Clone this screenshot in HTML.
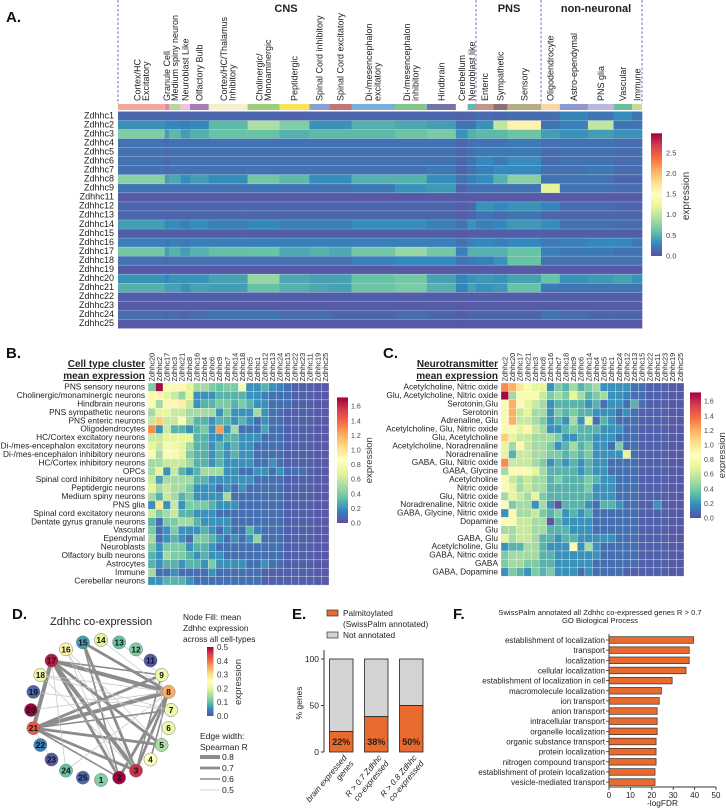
<!DOCTYPE html>
<html><head><meta charset="utf-8"><style>
html,body{margin:0;padding:0;background:#fff;}
svg{display:block;font-family:"Liberation Sans",Arial,sans-serif;}
</style></head><body>
<svg id="fig" width="726" height="811" viewBox="0 0 726 811" xmlns="http://www.w3.org/2000/svg">
<defs>
<linearGradient id="specV" x1="0" y1="1" x2="0" y2="0">
<stop offset="0" stop-color="#5e4fa2"/><stop offset="0.1" stop-color="#3288bd"/><stop offset="0.2" stop-color="#66c2a5"/><stop offset="0.3" stop-color="#abdda4"/><stop offset="0.4" stop-color="#e6f598"/><stop offset="0.5" stop-color="#ffffbf"/><stop offset="0.6" stop-color="#fee08b"/><stop offset="0.7" stop-color="#fdae61"/><stop offset="0.8" stop-color="#f46d43"/><stop offset="0.9" stop-color="#d53e4f"/><stop offset="1" stop-color="#9e0142"/>
</linearGradient>
</defs>
<g id="pA"></g>
<g id="pB"></g>
<g id="pC"></g>
<g id="pD"></g>
<g id="pE"></g>
<g id="pF"></g>
</svg>
<script>
// ---------- Panel A data ----------
const aClusters = ["Cortex/HC|Excitatory","Granule Cell","Medium spiny neuron","Neuroblast Like","Olfactory Bulb","Cortex/HC/Thalamus|Inhibitory","Cholinergic/|Monoaminergic","Peptidergic","Spinal Cord inhibitory","Spinal Cord excitatory","Di-/mesencephalon|excitatory","Di-/mesencephalon|inhibitory","Hindbrain","Cerebellum","Neuroblast like","Enteric","Sympathetic","Sensory","Oligodendrocyte","Astro-ependymal","PNS glia","Vascular","Immune"];
const aCellCounts = [468,42,117,93,188,388,319,299,201,220,435,319,290,117,84,173,141,336,188,281,257,187,97];
const aClusterColors = ["#f4a69a","#e87fb5","#b5d89a","#f0c0dc","#a97bb5","#f3f2cc","#9ccf7d","#f9e456","#8b9fd0","#c6727a","#7aaedb","#80c889","#7274a8","#ffffff","#66b6b8","#c5928e","#8a7078","#b5ad84","#fdd5a8","#8c98cf","#b8b8e0","#69c19b","#c2de8f"];
const aGenes = ["Zdhhc1","Zdhhc2","Zdhhc3","Zdhhc4","Zdhhc5","Zdhhc6","Zdhhc7","Zdhhc8","Zdhhc9","Zdhhc11","Zdhhc12","Zdhhc13","Zdhhc14","Zdhhc15","Zdhhc16","Zdhhc17","Zdhhc18","Zdhhc19","Zdhhc20","Zdhhc21","Zdhhc22","Zdhhc23","Zdhhc24","Zdhhc25"];
const aExpr = [
[.12,.12,.12,.12,.12,.12,.12,.1,.12,.12,.12,.12,.12,.1,.12,.15,.12,.15,.15,.28,.2,.32,.2],
[.35,.3,.3,.25,.3,.55,.9,.7,.35,.35,.5,.45,.4,.2,.2,.35,1.0,1.6,.2,.25,1.0,.2,.2],
[.7,.4,.55,.4,.5,.6,.6,.5,.55,.55,.55,.62,.68,.35,.5,.55,.55,.62,.4,.35,.4,.35,.35],
[.18,.15,.18,.18,.18,.18,.18,.18,.18,.18,.18,.18,.18,.12,.18,.18,.18,.22,.18,.18,.18,.15,.15],
[.18,.15,.18,.18,.18,.18,.18,.18,.18,.18,.18,.18,.18,.12,.18,.22,.22,.22,.15,.18,.18,.15,.15],
[.18,.12,.18,.18,.18,.18,.18,.18,.18,.18,.18,.18,.18,.12,.18,.3,.22,.32,.15,.18,.18,.15,.15],
[.18,.15,.18,.18,.18,.18,.18,.18,.18,.18,.18,.18,.22,.12,.18,.26,.32,.3,.18,.18,.22,.15,.15],
[.75,.4,.45,.32,.4,.32,.65,.55,.32,.32,.5,.5,.32,.18,.25,.32,.5,.75,.18,.18,.18,.12,.12],
[.2,.18,.18,.18,.18,.18,.2,.18,.18,.18,.22,.35,.38,.12,.18,.18,.18,.18,1.2,.18,.18,.15,.15],
[.05,.05,.05,.05,.05,.05,.05,.05,.05,.05,.05,.05,.05,.05,.05,.05,.05,.05,.05,.05,.05,.05,.05],
[.12,.12,.12,.12,.12,.12,.12,.12,.12,.12,.12,.12,.12,.08,.12,.35,.3,.35,.28,.15,.15,.12,.12],
[.12,.1,.12,.12,.12,.12,.12,.12,.12,.12,.12,.12,.12,.08,.12,.2,.15,.2,.12,.12,.12,.12,.12],
[.4,.3,.32,.25,.32,.25,.3,.25,.25,.25,.32,.32,.25,.18,.35,.25,.3,.38,.32,.18,.18,.15,.15],
[.08,.06,.08,.08,.08,.08,.08,.08,.08,.08,.08,.08,.08,.06,.08,.08,.08,.08,.08,.08,.08,.08,.08],
[.25,.22,.25,.22,.25,.25,.25,.25,.25,.25,.25,.25,.25,.18,.25,.3,.25,.3,.22,.25,.3,.3,.22],
[.65,.4,.5,.4,.5,.58,.6,.45,.5,.45,.65,.8,.65,.25,.5,.5,.5,.6,.25,.22,.22,.18,.18],
[.18,.15,.18,.18,.18,.18,.18,.18,.18,.18,.25,.3,.3,.18,.22,.25,.35,.6,.18,.18,.18,.18,.18],
[.05,.05,.05,.05,.05,.05,.05,.05,.05,.05,.05,.05,.05,.05,.05,.05,.05,.05,.05,.05,.05,.05,.05],
[.35,.28,.35,.35,.35,.42,.8,.45,.42,.42,.6,.65,.42,.28,.35,.38,.35,.42,.6,.35,.38,.42,.35],
[.5,.42,.42,.35,.42,.4,.6,.5,.45,.42,.62,.68,.5,.28,.42,.35,.38,.6,.22,.2,.2,.2,.2],
[.08,.06,.08,.08,.08,.08,.08,.08,.08,.08,.08,.08,.08,.06,.08,.08,.08,.08,.08,.08,.08,.08,.08],
[.06,.05,.06,.06,.06,.06,.06,.06,.06,.06,.06,.06,.06,.05,.06,.06,.06,.06,.06,.06,.06,.06,.06],
[.15,.12,.15,.12,.15,.2,.2,.15,.15,.12,.12,.15,.12,.08,.12,.12,.12,.12,.2,.15,.12,.12,.12],
[.06,.05,.06,.06,.06,.06,.06,.06,.06,.06,.06,.06,.06,.05,.06,.06,.06,.06,.06,.06,.06,.06,.06]];
const aTicks = [0.5,1.0,1.5,2.0,2.5];

// ---------- Panel B data ----------
const bCols = ["Zdhhc20","Zdhhc2","Zdhhc17","Zdhhc3","Zdhhc21","Zdhhc8","Zdhhc16","Zdhhc4","Zdhhc6","Zdhhc9","Zdhhc7","Zdhhc14","Zdhhc18","Zdhhc5","Zdhhc1","Zdhhc12","Zdhhc13","Zdhhc24","Zdhhc15","Zdhhc22","Zdhhc23","Zdhhc11","Zdhhc19","Zdhhc25"];
const bRows = ["PNS sensory neurons","Cholinergic/monaminergic neurons","Hindbrain neurons","PNS sympathetic neurons","PNS enteric neurons","Oligodendrocytes","HC/Cortex excitatory neurons","Di-/mes-encephalon excitatory neurons","Di-/mes-encephalon inhibitory neurons","HC/Cortex inhibitory neurons","OPCs","Spinal cord inhibitory neurons","Peptidergic neurons","Medium spiny neurons","PNS glia","Spinal cord excitatory neurons","Dentate gyrus granule neurons","Vascular","Ependymal","Neuroblasts","Olfactory bulb neurons","Astrocytes","Immune","Cerebellar neurons"];
const bVals = [
[.4,1.7,.8,.8,.9,.7,.5,.5,.4,.35,.4,.4,.8,.2,.2,.3,.2,.15,.1,.05,.05,.05,.03,.03],
[.9,.9,.7,.6,.45,.7,.2,.2,.2,.3,.3,.3,.3,.2,.2,.15,.1,.1,.1,.05,.05,.05,.03,.03],
[.8,.5,.9,.9,.95,.6,.2,.3,.3,.4,.4,.3,.4,.3,.2,.2,.1,.1,.1,.05,.05,.05,.03,.03],
[.5,.7,.7,.6,.6,.5,.5,.5,.5,.2,.4,.2,.2,.2,.5,.2,.1,.1,.05,.05,.05,.05,.03,.03],
[.6,1.1,.6,.6,.8,.5,.3,.3,.2,.3,.3,.2,.3,.2,.1,.2,.1,.1,.05,.05,.05,.05,.03,.03],
[1.3,.2,.6,.3,.3,.2,.3,.4,.2,1.25,.2,.5,.1,.1,.1,.25,.1,.1,.05,.05,.05,.05,.03,.03],
[.6,.6,.7,.7,.7,.7,.3,.3,.2,.2,.3,.3,.2,.2,.2,.1,.1,.1,.05,.05,.05,.05,.03,.03],
[.7,.6,.8,.75,.7,.5,.3,.3,.2,.3,.2,.3,.2,.2,.1,.1,.1,.1,.05,.05,.05,.05,.03,.03],
[.8,.5,.8,.8,.7,.4,.3,.3,.2,.3,.2,.3,.2,.2,.1,.1,.1,.1,.05,.05,.05,.05,.03,.03],
[.5,.5,.6,.6,.6,.5,.3,.3,.2,.3,.2,.2,.2,.2,.1,.1,.2,.1,.05,.05,.05,.05,.03,.03],
[.5,.7,.2,.6,.3,.2,.3,.5,.5,.5,.2,.2,.1,.1,.2,.2,.1,.2,.1,.1,.1,.05,.03,.03],
[.6,.25,.5,.5,.5,.5,.3,.3,.2,.2,.2,.2,.2,.2,.1,.1,.1,.1,.05,.05,.05,.05,.03,.03],
[.7,.5,.6,.5,.5,.4,.2,.2,.2,.1,.2,.1,.2,.1,.1,.1,.1,.1,.05,.05,.05,.05,.03,.03],
[.5,.3,.6,.5,.3,.4,.2,.2,.2,.2,.5,.1,.1,.1,.1,.1,.1,.1,.05,.05,.05,.05,.03,.03],
[.2,1.0,.2,.6,.2,.4,.4,.4,.3,.2,.2,.2,.1,.1,.1,.1,.1,.1,.05,.05,.05,.05,.03,.03],
[.6,.4,.5,.6,.3,.3,.2,.2,.2,.1,.1,.1,.1,.1,.1,.1,.1,.1,.05,.05,.05,.05,.03,.03],
[.3,.1,.4,.4,.5,.5,.3,.2,.2,.2,.2,.1,.1,.1,.1,.1,.1,.1,.05,.05,.05,.05,.03,.03],
[.4,.1,.2,.4,.2,.2,.2,.3,.2,.1,.2,.1,.1,.3,.15,.1,.1,.1,.05,.05,.05,.05,.03,.03],
[.5,.1,.2,.3,.2,.1,.4,.4,.3,.2,.1,.2,.1,.2,.45,.1,.1,.1,.05,.05,.05,.05,.03,.03],
[.4,.2,.4,.4,.4,.2,.3,.3,.2,.1,.1,.1,.1,.1,.1,.1,.1,.1,.05,.05,.05,.05,.03,.03],
[.3,.2,.5,.4,.4,.3,.2,.3,.2,.2,.1,.1,.1,.1,.1,.1,.1,.1,.05,.05,.05,.05,.03,.03],
[.3,.2,.3,.3,.2,.3,.3,.2,.4,.2,.2,.2,.2,.1,.1,.2,.1,.1,.05,.05,.05,.05,.03,.03],
[.5,.1,.1,.2,.1,.1,.1,.1,.2,.1,.1,.1,.1,.1,.1,.05,.05,.05,.05,.05,.05,.05,.03,.03],
[.2,.2,.3,.3,.3,.2,.1,.1,.1,.1,.1,.1,.1,.1,.1,.05,.05,.05,.05,.05,.05,.05,.03,.03]];
const bcTicks = [0.0,0.2,0.4,0.6,0.8,1.0,1.2,1.4,1.6];

// ---------- Panel C data ----------
const cCols = ["Zdhhc2","Zdhhc20","Zdhhc17","Zdhhc21","Zdhhc3","Zdhhc8","Zdhhc16","Zdhhc7","Zdhhc18","Zdhhc9","Zdhhc6","Zdhhc14","Zdhhc4","Zdhhc5","Zdhhc1","Zdhhc24","Zdhhc12","Zdhhc13","Zdhhc15","Zdhhc22","Zdhhc11","Zdhhc23","Zdhhc19","Zdhhc25"];
const cRows = ["Acetylcholine, Nitric oxide","Glu, Acetylcholine, Nitric oxide","Serotonin,Glu","Serotonin","Adrenaline, Glu","Acetylcholine, Glu, Nitric oxide","Glu, Acetylcholine","Acetylcholine, Noradrenaline","Noradrenaline","GABA, Glu, Nitric oxide","GABA, Glycine","Acetylcholine","Nitric oxide","Glu, Nitric oxide","Noradrenaline, Nitric oxide","GABA, Glycine, Nitric oxide","Dopamine","Glu","GABA, Glu","Acetylcholine, Glu","GABA, Nitric oxide","GABA","GABA, Dopamine"];
const cVals = [
[1.3,1.2,1.0,.8,.7,.7,.2,.4,.3,.5,.3,.4,.5,.2,.2,.2,.2,.1,.1,.05,.05,.05,.03,.03],
[1.7,.5,.8,.8,.8,.6,.4,.5,.4,.7,.5,.3,.4,.5,.2,.2,.15,.1,.1,.05,.05,.05,.03,.03],
[.8,1.2,.9,.7,.6,.5,.2,.3,.3,.3,.3,.2,.3,.1,.2,.2,.1,.3,.1,.05,.05,.05,.03,.03],
[.8,1.2,.6,.7,.5,.5,.2,.4,.3,.4,.3,.3,.2,.2,.2,.1,.2,.1,.05,.05,.05,.05,.03,.03],
[.9,1.2,.6,.6,.5,.4,.2,.3,.2,.5,.2,.7,.1,.3,.2,.1,.1,.1,.05,.05,.05,.05,.03,.03],
[.8,.8,.7,.9,.6,.5,.2,.2,.3,.4,.3,.3,.3,.2,.2,.2,.1,.1,.05,.05,.05,.05,.03,.03],
[1.1,.7,.6,.6,.5,.5,.5,.4,.2,.2,.3,.3,.2,.2,.2,.1,.1,.1,.05,.05,.05,.05,.03,.03],
[.7,.5,.9,.6,.5,.5,.4,.2,.3,.5,.3,.4,.2,.2,.1,.4,.1,.1,.05,.05,.05,.05,.03,.03],
[.7,.3,.6,.6,.5,.5,.4,.4,.3,.4,.3,.4,.2,.2,.2,.2,.7,.1,.05,.05,.05,.05,.03,.03],
[1.3,.6,.6,.6,.5,.4,.2,.3,.2,.3,.2,.3,.2,.2,.1,.1,.1,.1,.05,.05,.05,.05,.03,.03],
[.5,.9,.9,.8,.7,.5,.3,.3,.3,.3,.2,.3,.2,.2,.1,.1,.1,.1,.05,.05,.05,.05,.03,.03],
[.9,.6,.5,.6,.5,.5,.3,.4,.3,.3,.3,.4,.3,.2,.2,.1,.1,.1,.05,.05,.05,.05,.03,.03],
[.9,.7,.5,.6,.5,.5,.3,.3,.3,.3,.3,.4,.2,.2,.2,.1,.1,.1,.05,.05,.05,.05,.03,.03],
[.5,.7,.6,.5,.7,.4,.3,.3,.3,.3,.3,.3,.2,.2,.2,.1,.1,.1,.05,.05,.05,.05,.03,.03],
[.9,.4,.5,.5,.2,.5,.2,.02,.3,.3,.3,.2,.1,.3,.3,.2,.1,.1,.05,.05,.2,.05,.03,.03],
[.2,.9,.5,.5,.6,.4,.3,.4,.2,.3,.2,.3,.1,.1,.1,.1,.1,.1,.05,.05,.05,.05,.03,.03],
[.9,.8,.6,.6,.5,.5,.02,.3,.2,.2,.2,.2,.1,.1,.1,.1,.1,.1,.05,.05,.05,.05,.03,.03],
[.5,.5,.6,.6,.5,.5,.3,.3,.3,.2,.2,.2,.1,.1,.1,.1,.1,.1,.05,.05,.05,.05,.03,.03],
[.7,.5,.6,.6,.5,.3,.3,.2,.3,.3,.2,.2,.2,.2,.2,.1,.1,.1,.05,.05,.05,.05,.03,.03],
[.2,.3,.3,.5,.5,.3,.2,.2,.2,.9,.2,.5,.2,.1,.1,.1,.1,.1,.05,.05,.05,.05,.03,.03],
[.4,.5,.5,.5,.5,.3,.3,.2,.2,.2,.2,.2,.2,.1,.1,.1,.1,.1,.05,.05,.05,.05,.03,.03],
[.4,.5,.5,.4,.4,.3,.3,.2,.2,.2,.2,.2,.1,.1,.1,.1,.1,.1,.05,.05,.05,.05,.03,.03],
[.2,.4,.3,.2,.4,.3,.4,.2,.2,.2,.1,.2,.1,.1,.1,.1,.05,.05,.05,.05,.05,.05,.03,.03]];

// ---------- Panel D data ----------
const dNodeOrder = [14,13,12,11,9,8,7,6,5,4,3,2,1,25,24,23,22,21,20,19,18,17,16,15];
const dNodeExpr = {1:.12,2:.5,3:.46,4:.25,5:.15,6:.22,7:.22,8:.35,9:.22,11:.01,12:.12,13:.1,14:.2,15:.07,16:.27,17:.48,18:.22,19:.02,20:.5,21:.42,22:.04,23:.01,24:.1,25:.02};
const dEdgeFrom = [17,17,21,21,17,17,17,15,15,21,21,21,8,8,9,17,15,16,18,18,14,13,16,21,20,24,18,4,5,19,24,23,16];
const dEdgeTo   = [8,3,8,9,21,2,5,3,8,5,3,2,3,2,3,9,2,5,8,7,8,9,3,7,8,17,3,8,9,7,8,21,2];
const dEdgeR    = [.8,.8,.8,.7,.8,.7,.7,.7,.7,.7,.7,.6,.7,.7,.6,.6,.6,.5,.5,.5,.5,.5,.5,.6,.5,.5,.5,.6,.5,.5,.5,.5,.5];
const dTicks = [0.0,0.1,0.2,0.3,0.4,0.5];
const dLegendR = [0.8,0.7,0.6,0.5];

// ---------- Panel E data ----------
const eCats = [["brain expressed","genes"],["R > 0.7 Zdhhc","co-expressed"],["R > 0.8 Zdhhc","co-expressed"]];
const ePalm = [22,38,50];
const eTicks = [0,50,100];

// ---------- Panel F data ----------
const fTerms = ["establishment of localization","transport","localization","cellular localization","establishment of localization in cell","macromolecule localization","ion transport","anion transport","intracellular transport","organelle localization","organic substance transport","protein localization","nitrogen compound transport","establishment of protein localization","vesicle-mediated transport"];
const fVals = [39.5,37.5,37.5,36,29.5,24.5,23.5,22.5,22.5,22.5,22,22,22,21.5,21.5];
const fTicks = [0,10,20,30,40,50];

// ---------- helpers ----------
const NS = "http://www.w3.org/2000/svg";
function mk(tag, attrs, parent){ const e=document.createElementNS(NS,tag); for(const k in attrs) e.setAttribute(k,attrs[k]); parent.appendChild(e); return e; }
const STOPS=["#5e4fa2","#3288bd","#66c2a5","#abdda4","#e6f598","#ffffbf","#fee08b","#fdae61","#f46d43","#d53e4f","#9e0142"];
function hex(c){return [parseInt(c.slice(1,3),16),parseInt(c.slice(3,5),16),parseInt(c.slice(5,7),16)];}
function spec(t){ t=Math.max(0,Math.min(1,t)); const p=t*10; const i=Math.min(9,Math.floor(p)); const f=p-i; const a=hex(STOPS[i]), b=hex(STOPS[i+1]); return "rgb("+a.map((v,k)=>Math.round(v+(b[k]-v)*f)).join(",")+")"; }
function txt(parent, x, y, s, size, opts){ const t=mk("text",Object.assign({x:x,y:y,"font-size":size,fill:"#222"},opts||{}),parent); t.textContent=s; return t; }

// ================= Panel A =================
(function(){
  const g=document.getElementById("pA");
  const x0=118, x1=642, y0=111.5, rh=9.04, vmax=2.97;
  const total=aCellCounts.reduce((s,v)=>s+v,0);
  const sx=(x1-x0)/total;
  let t=txt(g,6,22,"A.",15,{"font-weight":"bold",fill:"#111"});
  
  
  [["CNS",286],["PNS",509],["non-neuronal",596]].forEach(h=>{
    const e=txt(g,h[1],12,h[0],11,{"font-weight":"bold","text-anchor":"middle"});
    
    
  });
  [118,476,541,642].forEach(x=>{
    const l=mk("line",{x1:x,y1:0,x2:x,y2:104,stroke:"#3a4fb0","stroke-width":0.8,"stroke-dasharray":"2.5,2"},g);
    
    
  });
  let acc=0;
  aClusters.forEach((name,ci)=>{
    const xa=x0+acc*sx, w=aCellCounts[ci]*sx; acc+=aCellCounts[ci];
    const r=mk("rect",{x:xa,y:104,width:w,height:6,fill:aClusterColors[ci]},g);
    
    
    const lines=name.split("|"); const cx=xa+w/2;
    const lab=mk("text",{transform:"translate("+cx+",101) rotate(-90)","font-size":9,fill:"#222"},g);
    
    
    lines.forEach((ln,li)=>{ const ts=mk("tspan",{x:0,y:(li-(lines.length-1)/2)*8.5+3.2},lab); ts.textContent=ln; });
    aGenes.forEach((gn,ri)=>{
      const c=mk("rect",{x:xa,y:y0+ri*rh,width:w+0.3,height:rh,fill:spec(aExpr[ri][ci]/vmax)},g);
      
      
    });
  });
  aGenes.forEach((gn,ri)=>{
    const l=txt(g,114,y0+ri*rh+6.8,gn,9,{"text-anchor":"end"});
    
    
    if(ri>0){ const ln=mk("line",{x1:x0,x2:x1,y1:y0+ri*rh,y2:y0+ri*rh,stroke:"#fff","stroke-opacity":0.35,"stroke-width":0.6},g);
      
       }
  });
  const cbx=651, cbBottom=256, cbPer=41.3, cbTop=cbBottom-vmax*cbPer;
  const cb=mk("rect",{x:cbx,y:cbTop,width:11,height:cbBottom-cbTop,fill:"url(#specV)"},g);
  
  
  [0].concat(aTicks).forEach(v=>{
    const y=cbBottom-v*cbPer;
    const e=txt(g,666,y+2.5,v.toFixed(1),7.5,{fill:"#444"});
    
    
  });
  const et=mk("text",{transform:"translate(689,196) rotate(-90)","font-size":10,"text-anchor":"middle",fill:"#333"},g);
  et.textContent="expression";
  
  
})();

// ================= heatmap helper for B / C =================
function smallHeat(g, cols, rows, vals, x0, x1, y0, rh, labelX, name){
  const cw=(x1-x0)/cols.length, vmax=1.72;
  rows.forEach((rn,ri)=>{
    cols.forEach((cn,ci)=>{
      const c=mk("rect",{x:x0+ci*cw,y:y0+ri*rh,width:cw,height:rh,fill:spec(vals[ri][ci]/vmax),stroke:"#ffffff","stroke-opacity":0.55,"stroke-width":0.5},g);
      
      
    });
    const l=txt(g,labelX,y0+ri*rh+6.6,rn,8.3,{"text-anchor":"end"});
    
    
  });
  cols.forEach((cn,ci)=>{
    const t=mk("text",{transform:"translate("+(x0+ci*cw+cw/2+2.6)+","+(y0-1.5)+") rotate(-90)","font-size":7.4,fill:"#222"},g);
    t.textContent=cn;
    
    
  });
}
function smallBar(g, x, bottom, per, tickX, titleX, name){
  const top=bottom-1.72*per;
  const r=mk("rect",{x:x,y:top,width:11,height:bottom-top,fill:"url(#specV)"},g);
  
  
  bcTicks.forEach(v=>{
    const e=txt(g,tickX,bottom-v*per+2.5,v.toFixed(1),7,{fill:"#444"});
    
    
  });
  const et=mk("text",{transform:"translate("+titleX+","+((top+bottom)/2)+") rotate(-90)","font-size":9.5,"text-anchor":"middle",fill:"#333"},g);
  et.textContent="expression";
  
  
}

// ================= Panel B =================
(function(){
  const g=document.getElementById("pB");
  let t=txt(g,6,358,"B.",15,{"font-weight":"bold",fill:"#111"});
  
  
  t=txt(g,145,367,"Cell type cluster",10,{"font-weight":"bold","text-anchor":"end","text-decoration":"underline"});
  
  
  t=txt(g,145,379,"mean expression",10,{"font-weight":"bold","text-anchor":"end","text-decoration":"underline"});
  
  
  smallHeat(g,bCols,bRows,bVals,148,329,383,8.42,145,'heatmap-b');
  smallBar(g,337,523,73,351,372,'colorbar-b');
})();

// ================= Panel C =================
(function(){
  const g=document.getElementById("pC");
  let t=txt(g,383,358,"C.",15,{"font-weight":"bold",fill:"#111"});
  
  
  t=txt(g,498,367,"Neurotransmitter",10,{"font-weight":"bold","text-anchor":"end","text-decoration":"underline"});
  
  
  t=txt(g,498,379,"mean expression",10,{"font-weight":"bold","text-anchor":"end","text-decoration":"underline"});
  
  
  smallHeat(g,cCols,cRows,cVals,501,684,383,8.4,498,'heatmap-c');
  smallBar(g,690,518,73,704,725,'colorbar-c');
})();

// ================= Panel D =================
(function(){
  const g=document.getElementById("pD");
  let t=txt(g,12,619,"D.",15,{"font-weight":"bold",fill:"#111"});
  
  
  t=txt(g,50,625,"Zdhhc co-expression",11,{fill:"#222"});
  
  
  ["Node Fill: mean","Zdhhc expression","across all cell-types"].forEach((s,i)=>{
    const e=txt(g,183,620+i*11,s,8.3,{fill:"#222"});
    
    
  });
  const cx=101, cy=710, R=70, vmax=0.5;
  const pos={};
  dNodeOrder.forEach((n,i)=>{ const a=(-90+i*15)*Math.PI/180; pos[n]=[cx+R*Math.cos(a), cy+R*Math.sin(a)]; });
  dEdgeFrom.forEach((f,i)=>{
    const r=dEdgeR[i];
    const w=r>=0.8?4:r>=0.7?2.8:r>=0.6?1.6:0.7;
    const col=r>=0.6?"#8c8c8c":"#c4c4c4";
    const l=mk("line",{x1:pos[f][0],y1:pos[f][1],x2:pos[dEdgeTo[i]][0],y2:pos[dEdgeTo[i]][1],stroke:col,"stroke-width":w},g);
    
    
  });
  dNodeOrder.forEach(n=>{
    const c=mk("circle",{cx:pos[n][0],cy:pos[n][1],r:6.6,fill:spec(dNodeExpr[n]/vmax),stroke:"#777","stroke-width":0.5},g);
    
    
    const l=txt(g,pos[n][0],pos[n][1]+3,String(n),8.3,{"text-anchor":"middle","font-weight":"bold",fill:"#111"});
    
    
  });
  const cbB=716, per=138;
  const cb=mk("rect",{x:207,y:cbB-0.5*per,width:6.5,height:0.5*per,fill:"url(#specV)"},g);
  
  
  dTicks.forEach(v=>{
    const e=txt(g,217,cbB-v*per+3,v.toFixed(1),8,{fill:"#333"});
    
    
  });
  const et=mk("text",{transform:"translate(241,682) rotate(-90)","font-size":9.5,"text-anchor":"middle",fill:"#333"},g);
  et.textContent="expression";
  
  
  t=txt(g,200,739,"Edge width:",8.5,{fill:"#222"});
  
  
  t=txt(g,200,750,"Spearman R",8.5,{fill:"#222"});
  
  
  dLegendR.forEach((r,i)=>{
    const y=757+i*11;
    const w=r>=0.8?4:r>=0.7?2.8:r>=0.6?1.6:0.7;
    const l=mk("line",{x1:200,x2:220,y1:y,y2:y,stroke:r>=0.6?"#8c8c8c":"#c4c4c4","stroke-width":w},g);
    
    
    const e=txt(g,222,y+3,r.toFixed(1),8.5,{fill:"#222"});
    
    
  });
})();

// ================= Panel E =================
(function(){
  const g=document.getElementById("pE");
  let t=txt(g,292,619,"E.",15,{"font-weight":"bold",fill:"#111"});
  
  
  let s=mk("rect",{x:327,y:610,width:11,height:6,fill:"#e86a2c",stroke:"#333","stroke-width":0.7},g);
  
  
  t=txt(g,343,616,"Palmitoylated",8.3,{fill:"#222"});
  
  
  t=txt(g,343,627,"(SwissPalm annotated)",8.3,{fill:"#222"});
  
  
  s=mk("rect",{x:327,y:632,width:11,height:6,fill:"#d3d3d3",stroke:"#333","stroke-width":0.7},g);
  
  
  t=txt(g,343,638,"Not annotated",8.3,{fill:"#222"});
  
  
  const y0=752, y100=659, ax=324;
  const yv=v=>y0-(y0-y100)*v/100;
  const bw=23.5, bx=[329.5,364.5,399.5];
  let a=mk("line",{x1:ax,x2:ax,y1:650,y2:y0,stroke:"#333","stroke-width":1},g);
  
  
  eTicks.forEach(v=>{
    const tk=mk("line",{x1:ax-3,x2:ax,y1:yv(v),y2:yv(v),stroke:"#333","stroke-width":1},g);
    
    
    const e=txt(g,ax-5,yv(v)+3,String(v),8.5,{"text-anchor":"end",fill:"#222"});
    
    
  });
  const yl=mk("text",{transform:"translate(302,703) rotate(-90)","font-size":8.5,"text-anchor":"middle",fill:"#222"},g);
  yl.textContent="% genes";
  
  
  ePalm.forEach((p,i)=>{
    const x=bx[i];
    let r=mk("rect",{x:x,y:yv(100),width:bw,height:yv(p)-yv(100),fill:"#d3d3d3",stroke:"#222","stroke-width":0.8},g);
    
    
    r=mk("rect",{x:x,y:yv(p),width:bw,height:y0-yv(p),fill:"#e86a2c",stroke:"#222","stroke-width":0.8},g);
    
    
    const e=txt(g,x+bw/2,y0-7,p+"%",9,{"text-anchor":"middle","font-weight":"bold",fill:"#222"});
    
    
    const lab=mk("text",{transform:"translate("+(x+bw/2+6)+","+(y0+6)+") rotate(-50)","font-size":8.2,"text-anchor":"end","font-style":"italic",fill:"#222"},g);
    
    
    eCats[i].forEach((ln,li)=>{ const ts=mk("tspan",{x:0,y:li*9},lab); ts.textContent=ln; });
  });
})();

// ================= Panel F =================
(function(){
  const g=document.getElementById("pF");
  let t=txt(g,453,619,"F.",15,{"font-weight":"bold",fill:"#111"});
  
  
  t=txt(g,600,615,"SwissPalm annotated all Zdhhc co-expressed genes R > 0.7",7.6,{"text-anchor":"middle",fill:"#222"});
  
  
  t=txt(g,600,623,"GO Biological Process",7.6,{"text-anchor":"middle",fill:"#222"});
  
  
  const x0=609, x50=716, yTop=640, sp=10.15, ay=787;
  const xv=v=>x0+(x50-x0)*v/50;
  let a=mk("line",{x1:x0,x2:x0,y1:634,y2:ay,stroke:"#333","stroke-width":0.9},g);
  
  
  a=mk("line",{x1:x0,x2:x50,y1:ay,y2:ay,stroke:"#333","stroke-width":0.9},g);
  
  
  fTicks.forEach(v=>{
    const tk=mk("line",{x1:xv(v),x2:xv(v),y1:ay,y2:ay+3,stroke:"#333","stroke-width":0.9},g);
    
    
    const e=txt(g,xv(v),ay+11,String(v),8,{"text-anchor":"middle",fill:"#222"});
    
    
  });
  t=txt(g,(x0+x50)/2,806,"-logFDR",8.3,{"text-anchor":"middle",fill:"#222"});
  
  
  fTerms.forEach((term,i)=>{
    const yc=yTop+i*sp;
    const r=mk("rect",{x:x0,y:yc-3.3,width:xv(fVals[i])-x0,height:6.6,fill:"#e86a2c",stroke:"#333","stroke-width":0.7},g);
    
    
    const tk=mk("line",{x1:x0-3,x2:x0,y1:yc,y2:yc,stroke:"#333","stroke-width":0.8},g);
    
    
    const e=txt(g,x0-4,yc+3,term,8,{"text-anchor":"end",fill:"#222"});
    
    
  });
})();
</script>
</body></html>
